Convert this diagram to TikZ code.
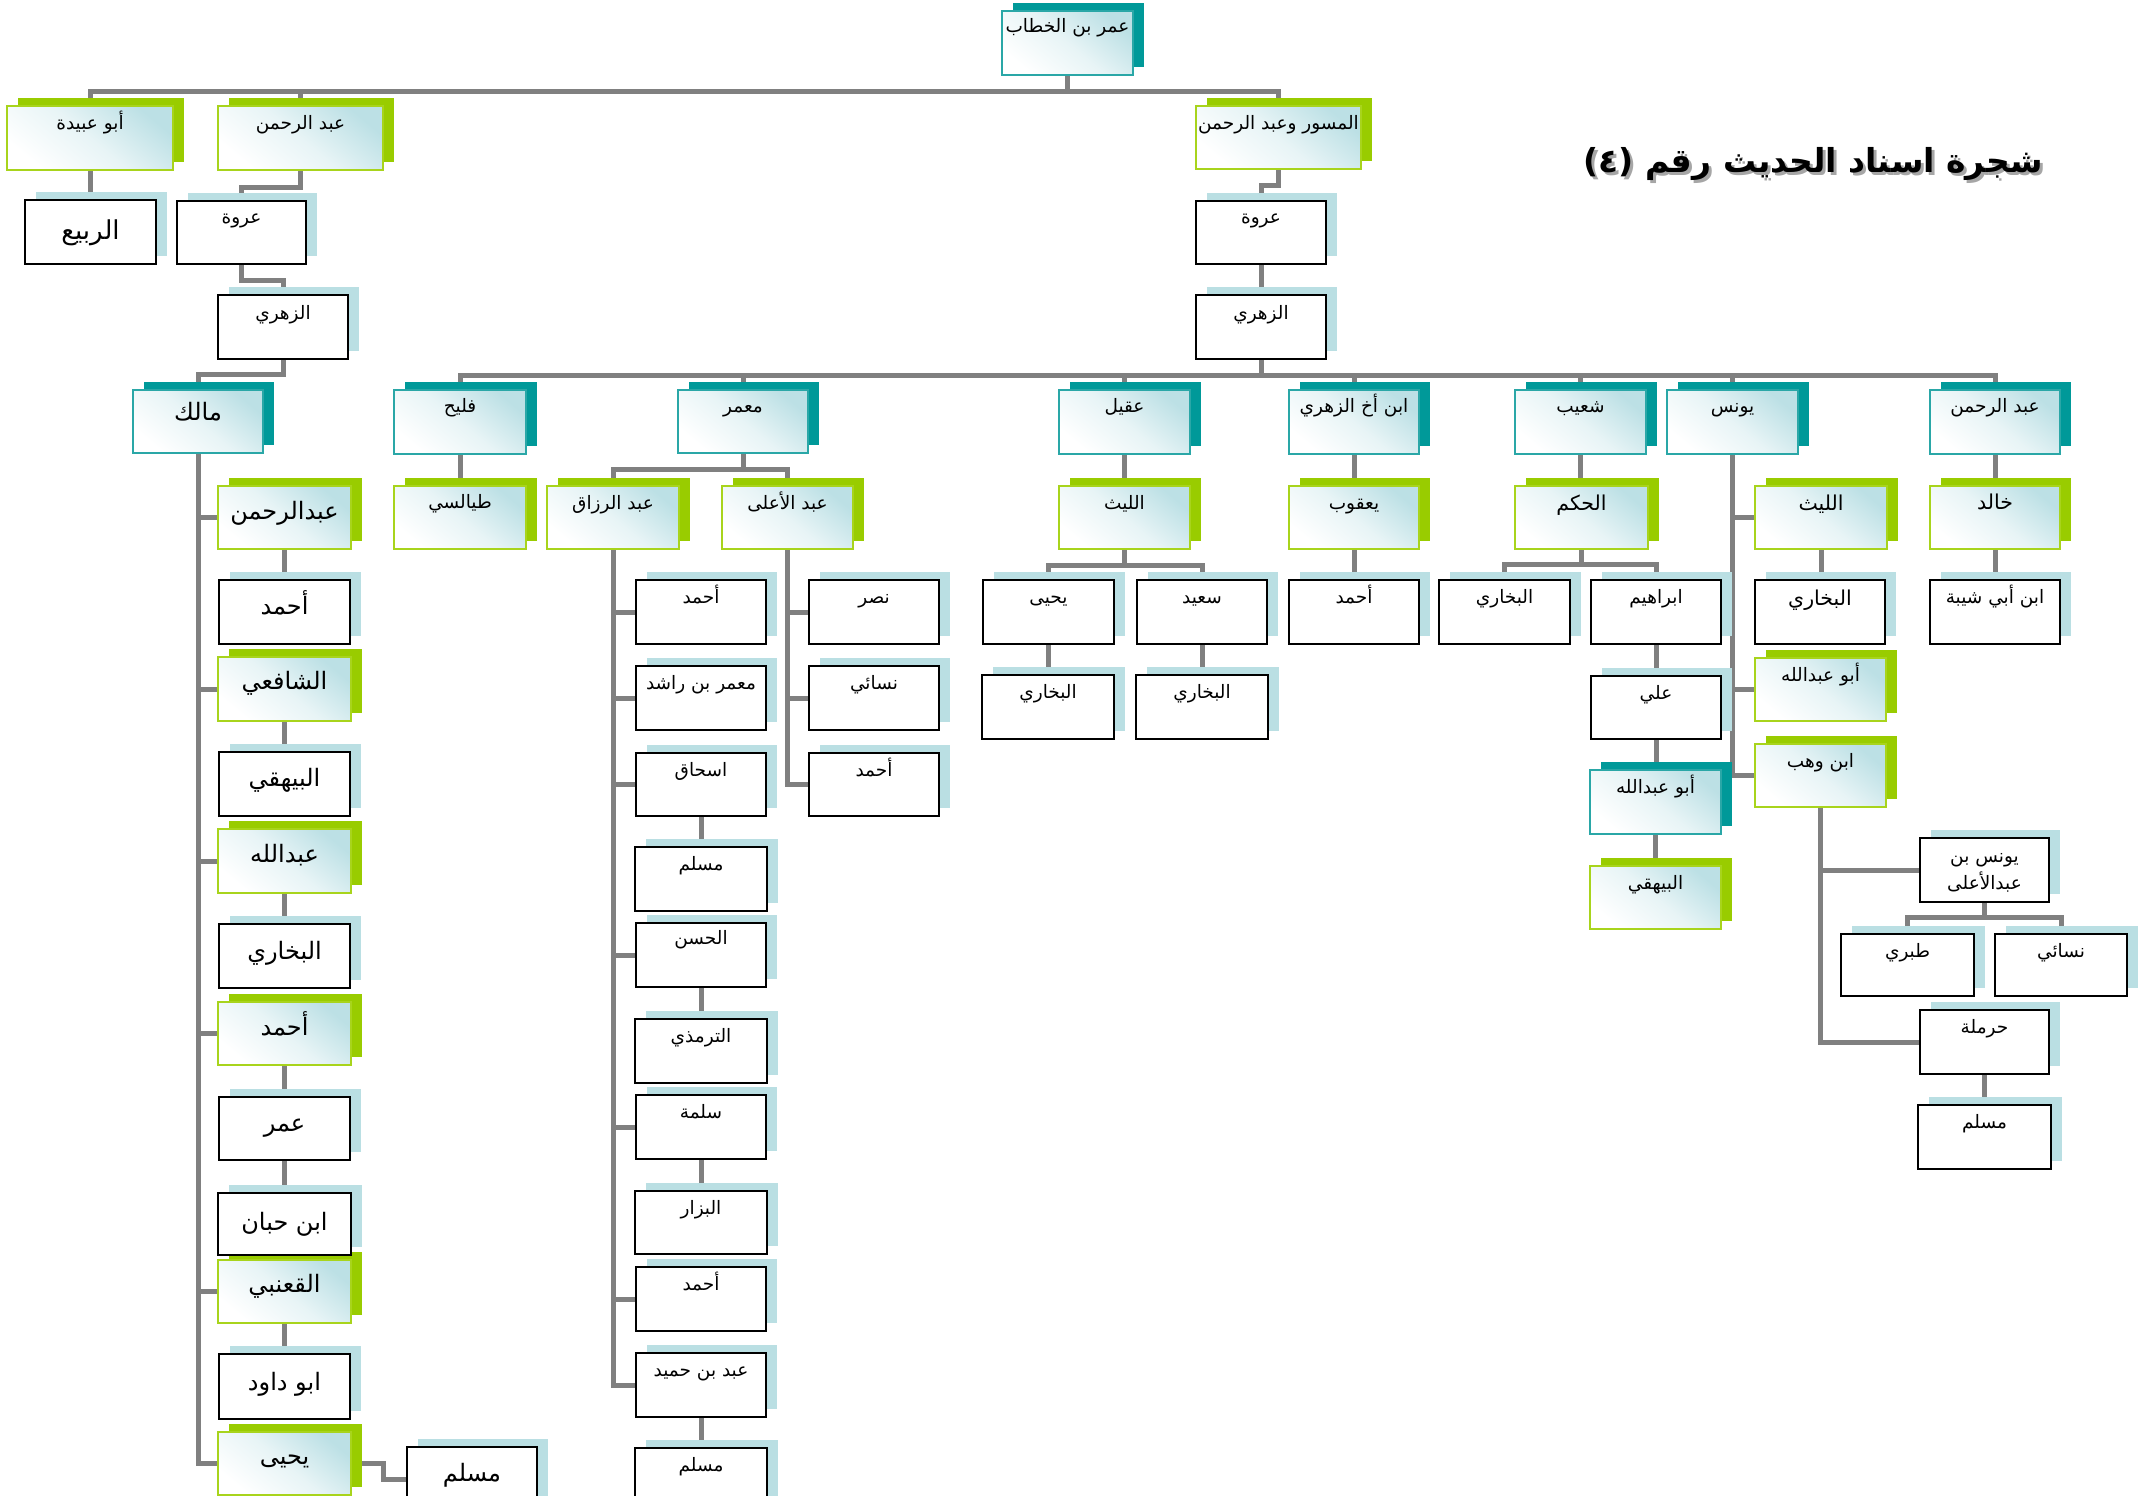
\documentclass[tikz,border=0pt]{standalone}
\usepackage{fontspec}
\newfontfamily\arabicfont[Script=Arabic]{DejaVu Sans}
\TeXXeTstate=1
\usetikzlibrary{calc}

\definecolor{tealdark}{HTML}{009999}
\definecolor{tealline}{HTML}{2AA7A7}
\definecolor{greendark}{HTML}{99CC00}
\definecolor{greenline}{HTML}{A8D41C}
\definecolor{paleblue}{HTML}{BADFE3}
\definecolor{wash}{HTML}{BCE0E5}
\definecolor{linkgray}{HTML}{808080}

\pgfdeclarelayer{wires}
\pgfdeclarelayer{offsets}
\pgfsetlayers{wires,offsets,main}

\tikzset{
  plate/.style={rectangle, inner sep=0pt, outer sep=0pt, anchor=north west},
  shaded plate/.style={plate, top color=wash, bottom color=white,
    middle color=wash!35!white, shading angle=-40},
  tealbox/.style={shaded plate, draw=tealline, line width=1.6pt},
  greenbox/.style={shaded plate, draw=greenline, line width=1.6pt},
  whitebox/.style={plate, fill=white, draw=black, line width=2pt},
  tealshadow/.style={fill=tealdark},
  greenshadow/.style={fill=greendark},
  whiteshadow/.style={fill=paleblue},
  std/.style={font=\arabicfont\fontsize{18.5}{22}\selectfont},
  mid/.style={font=\arabicfont\fontsize{20.5}{24}\selectfont},
  big/.style={font=\arabicfont\fontsize{24}{28}\selectfont},
  huge/.style={font=\arabicfont\fontsize{26}{30}\selectfont},
  link/.style={draw=linkgray, line width=5pt},
  titletxt/.style={font=\arabicfont\bfseries\fontsize{33}{40}\selectfont, inner sep=0pt, anchor=base},
}

% #1 kind, #2 name, #3-#6 corners (left, top, right, bottom),
% #7 baseline below the top edge, #8 text style, #9 text
\newcommand\isnadbox[9]{%
  \begin{pgfonlayer}{offsets}
    \fill[#1shadow] (#3+11,#4-8) rectangle (#5+11,#6-8);
  \end{pgfonlayer}
  \node[#1box, minimum width={(#5-#3)*1pt}, minimum height={(#6-#4)*1pt}] (#2) at (#3,#4) {};
  \node[#8, anchor=base, inner sep=0pt] (#2-label) at ($(#2.north)+(0,#7)$) {#9};
}
\newcommand\down[2]{\draw[link] (#1.south) -- (#1.south |- #2.north);}
\newcommand\stub[2]{\draw[link] (#1.west) -- (#1.west -| #2.south);}

\begin{document}
\begin{tikzpicture}[x=1pt, y=-1pt]
\useasboundingbox (0,0) rectangle (2152,1496);

% title
\node[titletxt, text=black!35] (title-shadow) at (1816,175) {\beginR شجرة اسناد الحديث رقم (٤)\endR};
\node[titletxt] (title) at (1813,172) {\beginR شجرة اسناد الحديث رقم (٤)\endR};

% upper generations
\isnadbox{teal}{umar}{1002}{11}{1133}{75}{22}{std}{\beginR عمر بن الخطاب\endR}
\isnadbox{green}{abuubayda}{7}{106}{173}{170}{23}{std}{\beginR أبو عبيدة\endR}
\isnadbox{green}{abdrahmanA}{218}{106}{383}{170}{23}{std}{\beginR عبد الرحمن\endR}
\isnadbox{green}{miswar}{1196}{106}{1361}{169}{23}{std}{\beginR المسور وعبد الرحمن\endR}
\isnadbox{white}{rabi}{25}{200}{156}{264}{39}{huge}{\beginR الربيع\endR}
\isnadbox{white}{urwaA}{177}{201}{306}{264}{22}{std}{\beginR عروة\endR}
\isnadbox{white}{zuhriA}{218}{295}{348}{359}{24}{std}{\beginR الزهري\endR}
\isnadbox{white}{urwaB}{1196}{201}{1326}{264}{22}{std}{\beginR عروة\endR}
\isnadbox{white}{zuhriB}{1196}{295}{1326}{359}{24}{std}{\beginR الزهري\endR}

% students of al-Zuhri
\isnadbox{teal}{malik}{133}{390}{263}{453}{30}{big}{\beginR مالك\endR}
\isnadbox{teal}{fulayh}{394}{390}{526}{454}{22}{std}{\beginR فليح\endR}
\isnadbox{teal}{mamar}{678}{390}{808}{453}{22}{std}{\beginR معمر\endR}
\isnadbox{teal}{uqayl}{1059}{390}{1190}{454}{22}{std}{\beginR عقيل\endR}
\isnadbox{teal}{ibnakh}{1289}{390}{1419}{454}{22}{std}{\beginR ابن أخ الزهري\endR}
\isnadbox{teal}{shuayb}{1515}{390}{1646}{454}{22}{std}{\beginR شعيب\endR}
\isnadbox{teal}{yunus}{1667}{390}{1798}{454}{22}{std}{\beginR يونس\endR}
\isnadbox{teal}{abdrahmanB}{1930}{390}{2060}{454}{22}{std}{\beginR عبد الرحمن\endR}

% Malik's chain
\isnadbox{green}{abdrahmanC}{218}{486}{351}{549}{33}{big}{\beginR عبدالرحمن\endR}
\isnadbox{white}{ahmadL}{219}{580}{350}{644}{34}{big}{\beginR أحمد\endR}
\isnadbox{green}{shafii}{218}{657}{351}{721}{32}{big}{\beginR الشافعي\endR}
\isnadbox{white}{bayhaqiL}{219}{752}{350}{816}{34}{big}{\beginR البيهقي\endR}
\isnadbox{green}{abdullahL}{218}{829}{351}{893}{33}{big}{\beginR عبدالله\endR}
\isnadbox{white}{bukhariM}{219}{924}{350}{988}{35}{big}{\beginR البخاري\endR}
\isnadbox{green}{ahmadG}{218}{1002}{351}{1065}{33}{big}{\beginR أحمد\endR}
\isnadbox{white}{umarL}{219}{1097}{350}{1160}{34}{big}{\beginR عمر\endR}
\isnadbox{white}{ibnhibban}{218}{1193}{351}{1255}{37}{big}{\beginR ابن حبان\endR}
\isnadbox{green}{qanabi}{218}{1260}{351}{1323}{32}{big}{\beginR القعنبي\endR}
\isnadbox{white}{abudawud}{219}{1354}{350}{1419}{36}{big}{\beginR ابو داود\endR}
\isnadbox{green}{yahyaL}{218}{1432}{351}{1495}{32}{big}{\beginR يحيى\endR}
\isnadbox{white}{muslimL}{407}{1447}{537}{1511}{34}{big}{\beginR مسلم\endR}

% Fulayh and Ma'mar
\isnadbox{green}{tayalisi}{394}{486}{526}{549}{22}{std}{\beginR طيالسي\endR}
\isnadbox{green}{abdrazzaq}{547}{486}{679}{549}{23}{std}{\beginR عبد الرزاق\endR}
\isnadbox{green}{abdala}{722}{486}{853}{549}{23}{std}{\beginR عبد الأعلى\endR}
\isnadbox{white}{ahmadR1}{636}{580}{766}{644}{23}{std}{\beginR أحمد\endR}
\isnadbox{white}{mamarrashid}{636}{666}{766}{730}{23}{std}{\beginR معمر بن راشد\endR}
\isnadbox{white}{ishaq}{636}{753}{766}{816}{23}{std}{\beginR اسحاق\endR}
\isnadbox{white}{muslimR1}{635}{847}{767}{911}{23}{std}{\beginR مسلم\endR}
\isnadbox{white}{hasan}{636}{923}{766}{987}{21}{std}{\beginR الحسن\endR}
\isnadbox{white}{tirmidhi}{635}{1019}{767}{1083}{23}{std}{\beginR الترمذي\endR}
\isnadbox{white}{salama}{636}{1095}{766}{1159}{23}{std}{\beginR سلمة\endR}
\isnadbox{white}{bazzar}{635}{1191}{767}{1254}{23}{std}{\beginR البزار\endR}
\isnadbox{white}{ahmadR2}{636}{1267}{766}{1331}{23}{std}{\beginR أحمد\endR}
\isnadbox{white}{abdhumayd}{636}{1353}{766}{1417}{23}{std}{\beginR عبد بن حميد\endR}
\isnadbox{white}{muslimR2}{635}{1448}{767}{1512}{23}{std}{\beginR مسلم\endR}
\isnadbox{white}{nasr}{809}{580}{939}{644}{23}{std}{\beginR نصر\endR}
\isnadbox{white}{nasai}{809}{666}{939}{730}{23}{std}{\beginR نسائي\endR}
\isnadbox{white}{ahmadA}{809}{753}{939}{816}{23}{std}{\beginR أحمد\endR}

% Uqayl, Ibn Akhi al-Zuhri, Shu'ayb
\isnadbox{green}{laythA}{1059}{486}{1190}{549}{23}{std}{\beginR الليث\endR}
\isnadbox{white}{yahyaA}{983}{580}{1114}{644}{23}{std}{\beginR يحيى\endR}
\isnadbox{white}{said}{1137}{580}{1267}{644}{23}{std}{\beginR سعيد\endR}
\isnadbox{white}{bukhariY}{982}{675}{1114}{739}{23}{std}{\beginR البخاري\endR}
\isnadbox{white}{bukhariS}{1136}{675}{1268}{739}{23}{std}{\beginR البخاري\endR}
\isnadbox{green}{yaqub}{1289}{486}{1419}{549}{23}{std}{\beginR يعقوب\endR}
\isnadbox{white}{ahmadY}{1289}{580}{1419}{644}{23}{std}{\beginR أحمد\endR}
\isnadbox{green}{hakam}{1515}{486}{1648}{549}{24}{mid}{\beginR الحكم\endR}
\isnadbox{white}{bukhariH}{1439}{580}{1570}{644}{23}{std}{\beginR البخاري\endR}
\isnadbox{white}{ibrahim}{1591}{580}{1721}{644}{23}{std}{\beginR ابراهيم\endR}
\isnadbox{white}{ali}{1591}{676}{1721}{739}{23}{std}{\beginR علي\endR}
\isnadbox{teal}{abuabdullahT}{1590}{770}{1721}{834}{23}{std}{\beginR أبو عبدالله\endR}
\isnadbox{green}{bayhaqiR}{1590}{866}{1721}{929}{23}{std}{\beginR البيهقي\endR}

% Yunus and Abd al-Rahman
\isnadbox{green}{laythB}{1755}{486}{1887}{549}{24}{mid}{\beginR الليث\endR}
\isnadbox{white}{bukhariL}{1755}{580}{1885}{644}{25}{mid}{\beginR البخاري\endR}
\isnadbox{green}{abuabdullahG}{1755}{658}{1886}{721}{23}{std}{\beginR أبو عبدالله\endR}
\isnadbox{green}{ibnwahb}{1755}{744}{1886}{807}{23}{std}{\beginR ابن وهب\endR}
\isnadbox{white}{yunusala}{1920}{838}{2049}{902}{24}{std}{\beginR يونس بن\endR}
\node[std, anchor=base, inner sep=0pt] (yunusala-label2) at ($(yunusala.north)+(0,51)$) {\beginR عبدالأعلى\endR};
\isnadbox{white}{tabari}{1841}{934}{1974}{996}{23}{std}{\beginR طبري\endR}
\isnadbox{white}{nasaiR}{1995}{934}{2127}{996}{23}{std}{\beginR نسائي\endR}
\isnadbox{white}{harmala}{1920}{1010}{2049}{1074}{23}{std}{\beginR حرملة\endR}
\isnadbox{white}{muslimY}{1918}{1105}{2051}{1169}{23}{std}{\beginR مسلم\endR}
\isnadbox{green}{khalid}{1930}{486}{2060}{549}{23}{mid}{\beginR خالد\endR}
\isnadbox{white}{ibnabishayba}{1930}{580}{2060}{644}{23}{std}{\beginR ابن أبي شيبة\endR}

% connectors
\begin{pgfonlayer}{wires}
  \coordinate (busA) at ($(umar.south)+(0,16)$);
  \draw[link] (umar.south) -- (busA);
  \draw[link] (abuubayda.north) |- (busA) -| (miswar.north);
  \draw[link] (abdrahmanA.north) -- (abdrahmanA.north |- busA);
  \down{abuubayda}{rabi}
  \draw[link] (abdrahmanA.south) -- ++(0,17) -| (urwaA.north);
  \draw[link] (urwaA.south) -- ++(0,16) -| (zuhriA.north);
  \draw[link] (zuhriA.south) -- ++(0,15) -| (malik.north);
  \draw[link] (miswar.south) -- ++(0,16) -| (urwaB.north);
  \down{urwaB}{zuhriB}

  \coordinate (busB) at ($(zuhriB.south)+(0,16)$);
  \draw[link] (zuhriB.south) -- (busB);
  \draw[link] (fulayh.north) |- (busB) -| (abdrahmanB.north);
  \foreach \n in {mamar,uqayl,ibnakh,shuayb,yunus}
    {\draw[link] (\n.north) -- (\n.north |- busB);}

  % Malik
  \draw[link] (malik.south) |- (yahyaL.west);
  \foreach \n in {abdrahmanC,shafii,abdullahL,ahmadG,qanabi} {\stub{\n}{malik}}
  \down{abdrahmanC}{ahmadL}
  \down{shafii}{bayhaqiL}
  \down{abdullahL}{bukhariM}
  \down{ahmadG}{umarL}
  \down{umarL}{ibnhibban}
  \down{qanabi}{abudawud}
  \draw[link] (yahyaL.east) -- ++(32,0) |- (muslimL.west);

  % Fulayh
  \down{fulayh}{tayalisi}

  % Ma'mar
  \coordinate (barM) at ($(mamar.south)+(0,16)$);
  \draw[link] (mamar.south) -- (barM);
  \draw[link] (abdrazzaq.north) |- (barM) -| (abdala.north);
  \draw[link] (abdrazzaq.south) |- (abdhumayd.west);
  \foreach \n in {ahmadR1,mamarrashid,ishaq,hasan,salama,ahmadR2} {\stub{\n}{abdrazzaq}}
  \down{ishaq}{muslimR1}
  \down{hasan}{tirmidhi}
  \down{salama}{bazzar}
  \down{abdhumayd}{muslimR2}
  \draw[link] (abdala.south) |- (ahmadA.west);
  \foreach \n in {nasr,nasai} {\stub{\n}{abdala}}

  % Uqayl
  \down{uqayl}{laythA}
  \coordinate (barL) at ($(laythA.south)+(0,16)$);
  \draw[link] (laythA.south) -- (barL);
  \draw[link] (yahyaA.north) |- (barL) -| (said.north);
  \down{yahyaA}{bukhariY}
  \down{said}{bukhariS}

  % Ibn Akhi al-Zuhri
  \down{ibnakh}{yaqub}
  \down{yaqub}{ahmadY}

  % Shu'ayb
  \down{shuayb}{hakam}
  \coordinate (barH) at ($(hakam.south)+(0,15)$);
  \draw[link] (hakam.south) -- (barH);
  \draw[link] (bukhariH.north) |- (barH) -| (ibrahim.north);
  \down{ibrahim}{ali}
  \down{ali}{abuabdullahT}
  \down{abuabdullahT}{bayhaqiR}

  % Yunus
  \draw[link] (yunus.south) |- (ibnwahb.west);
  \foreach \n in {laythB,abuabdullahG} {\stub{\n}{yunus}}
  \down{laythB}{bukhariL}
  \draw[link] (ibnwahb.south) |- (harmala.west);
  \stub{yunusala}{ibnwahb}
  \coordinate (barY) at ($(yunusala.south)+(0,15)$);
  \draw[link] (yunusala.south) -- (barY);
  \draw[link] (tabari.north) |- (barY) -| (nasaiR.north);
  \down{harmala}{muslimY}

  % Abd al-Rahman
  \down{abdrahmanB}{khalid}
  \down{khalid}{ibnabishayba}
\end{pgfonlayer}
\end{tikzpicture}
\end{document}
